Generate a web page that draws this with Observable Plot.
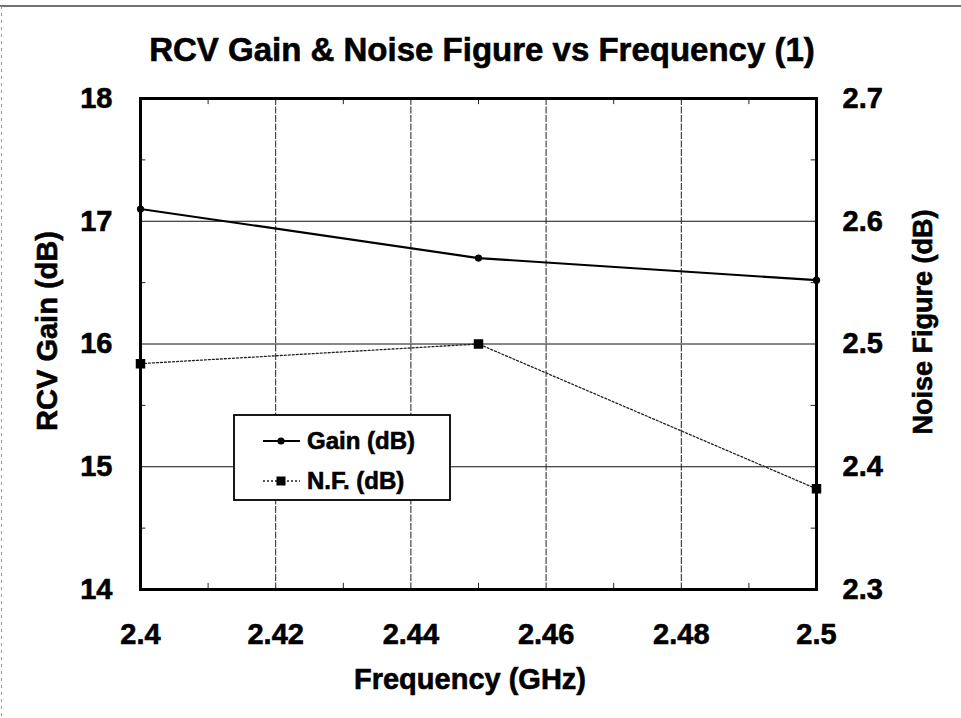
<!DOCTYPE html>
<html>
<head>
<meta charset="utf-8">
<script src="https://cdn.jsdelivr.net/npm/d3@7"></script>
<script src="https://cdn.jsdelivr.net/npm/@observablehq/plot@0.6"></script>
<style>
  html, body { margin: 0; padding: 0; background: #fff; }
  #chart { width: 961px; height: 718px; }
  svg { font-family: "Liberation Sans", Arial, sans-serif; }
  svg text { stroke: black; stroke-width: 0.6px; paint-order: stroke; }
</style>
</head>
<body>
<div id="chart"></div>
<script>
// ---- data ----
const freqGHz = [2.4, 2.45, 2.5];
const gainDb = [17.1, 16.7, 16.52];
const nfDb = [2.484, 2.5, 2.382];

const xTicks = [2.4, 2.42, 2.44, 2.46, 2.48, 2.5];
const gainTicks = [14, 15, 16, 17, 18];
const nfTicks = [2.3, 2.4, 2.5, 2.6, 2.7];
const minorX = [2.41, 2.43, 2.45, 2.47, 2.49];
const minorGain = [14.5, 15.5, 16.5, 17.5];

const titleText = "RCV Gain & Noise Figure vs Frequency (1)";
const xLabel = "Frequency (GHz)";
const yLabelLeft = "RCV Gain (dB)";
const yLabelRight = "Noise Figure (dB)";
const seriesNames = ["Gain (dB)", "N.F. (dB)"];

// map noise figure onto the gain scale (2.3..2.7 -> 14..18)
const nfToGain = v => 14 + (v - 2.3) * 10;
const gainToNf = v => (v - 14) / 10 + 2.3;

const gainData = freqGHz.map((f, i) => ({f, v: gainDb[i]}));
const nfData = freqGHz.map((f, i) => ({f, v: nfToGain(nfDb[i])}));

const W = 961, H = 718;
const mL = 140, mR = 145, mT = 98, mB = 129;

const fontBold = {fontSize: 29, fontWeight: "bold"};

const plot = Plot.plot({
  width: W,
  height: H,
  marginLeft: mL,
  marginRight: mR,
  marginTop: mT,
  marginBottom: mB,
  style: {fontFamily: "Liberation Sans, Arial, sans-serif", background: "white", color: "black", overflow: "visible"},
  x: {domain: [2.4, 2.5]},
  y: {domain: [14, 18]},
  marks: [
    Plot.gridY(gainTicks.slice(1, -1), {stroke: "#111", strokeOpacity: 1, strokeWidth: 1}),
    Plot.gridX(xTicks.slice(1, -1), {stroke: "#222", strokeOpacity: 1, strokeWidth: 1, strokeDasharray: "7,1.5"}),
    // minor ticks (inside)
    Plot.ruleX(minorX, {y1: 14, y2: 14.05, stroke: "#222", strokeWidth: 1}),
    Plot.ruleX(minorX, {y1: 17.95, y2: 18, stroke: "#222", strokeWidth: 1}),
    Plot.ruleY(minorGain, {x1: 2.4, x2: 2.4008, stroke: "#222", strokeWidth: 1}),
    Plot.ruleY(minorGain, {x1: 2.4992, x2: 2.5, stroke: "#222", strokeWidth: 1}),
    // axes
    Plot.axisX({ticks: xTicks, tickSize: 0, tickPadding: 34, tickFormat: d => String(+d.toFixed(3)), ...fontBold, label: null}),
    Plot.axisY({ticks: gainTicks, tickSize: 0, tickPadding: 28, tickFormat: d => String(d), ...fontBold, label: null}),
    Plot.axisY({anchor: "right", ticks: nfTicks.map(nfToGain), tickSize: 0, tickPadding: 26,
      tickFormat: d => gainToNf(d).toFixed(1), ...fontBold, label: null}),
    // series
    Plot.line(nfData, {x: "f", y: "v", stroke: "#222", strokeWidth: 1.3, strokeDasharray: "2,2"}),
    Plot.dot(nfData, {x: "f", y: "v", symbol: "square", r: 4.5, fill: "black", stroke: "black"}),
    Plot.line(gainData, {x: "f", y: "v", stroke: "black", strokeWidth: 2.2}),
    Plot.dot(gainData, {x: "f", y: "v", r: 3.6, fill: "black"}),
    Plot.frame({stroke: "black", strokeWidth: 3})
  ]
});

document.getElementById("chart").appendChild(plot);

const svg = d3.select(plot);

// outer border
svg.append("line").attr("x1", 0).attr("x2", W).attr("y1", 6).attr("y2", 6)
  .attr("stroke", "#444").attr("stroke-width", 1.5);
svg.append("line").attr("x1", 1.5).attr("x2", 1.5).attr("y1", 6).attr("y2", H)
  .attr("stroke", "#999").attr("stroke-width", 1).attr("stroke-dasharray", "3,4");

// title
svg.append("text").attr("x", 482).attr("y", 61).attr("text-anchor", "middle")
  .attr("font-size", 33).attr("font-weight", "bold").attr("fill", "black")
  .text(titleText);

// x axis title
svg.append("text").attr("x", 470).attr("y", 689).attr("text-anchor", "middle")
  .attr("font-size", 29).attr("font-weight", "bold").attr("fill", "black")
  .text(xLabel);

// left y title
svg.append("text").attr("transform", "translate(57,331) rotate(-90)").attr("text-anchor", "middle")
  .attr("font-size", 29).attr("font-weight", "bold").attr("fill", "black")
  .text(yLabelLeft);

// right y title
svg.append("text").attr("transform", "translate(932,322) rotate(-90)").attr("text-anchor", "middle")
  .attr("font-size", 27).attr("font-weight", "bold").attr("fill", "black")
  .text(yLabelRight);

// legend
const lg = svg.append("g").attr("text-anchor", "start");
lg.append("rect").attr("x", 234).attr("y", 415).attr("width", 216).attr("height", 85)
  .attr("fill", "white").attr("stroke", "black").attr("stroke-width", 1.8);
lg.append("line").attr("x1", 263).attr("x2", 300).attr("y1", 441).attr("y2", 441)
  .attr("stroke", "black").attr("stroke-width", 2);
lg.append("circle").attr("cx", 281).attr("cy", 441).attr("r", 3.6).attr("fill", "black");
lg.append("text").attr("x", 307).attr("y", 449).attr("text-anchor", "start").attr("font-size", 24).attr("font-weight", "bold")
  .attr("fill", "black").text(seriesNames[0]);
lg.append("line").attr("x1", 263).attr("x2", 300).attr("y1", 481).attr("y2", 481)
  .attr("stroke", "#222").attr("stroke-width", 1.3).attr("stroke-dasharray", "2,2");
lg.append("rect").attr("x", 276.5).attr("y", 476.5).attr("width", 9).attr("height", 9).attr("fill", "black");
lg.append("text").attr("x", 307).attr("y", 489).attr("text-anchor", "start").attr("font-size", 24).attr("font-weight", "bold")
  .attr("fill", "black").text(seriesNames[1]);
</script>
</body>
</html>
